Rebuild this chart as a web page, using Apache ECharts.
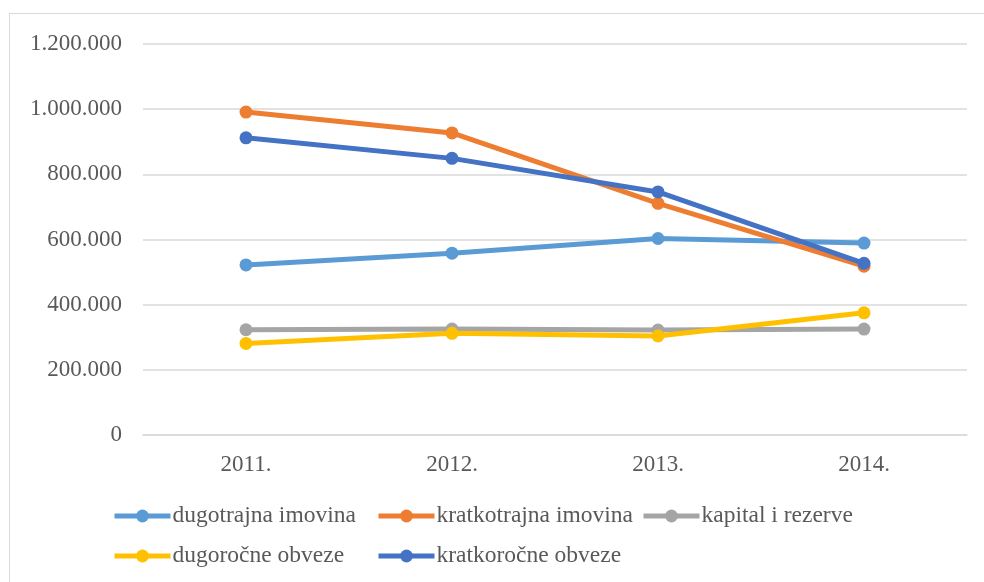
<!DOCTYPE html>
<html>
<head>
<meta charset="utf-8">
<script src="https://cdn.jsdelivr.net/npm/echarts@6/dist/echarts.min.js"></script>
<style>
html,body{margin:0;padding:0;background:#fff;}
#frame{position:absolute;left:9px;top:13px;width:1000px;height:600px;border:1.5px solid #d9d9d9;box-sizing:border-box;}
#chart{position:absolute;left:0;top:0;width:984px;height:582px;}
</style>
</head>
<body>
<div id="frame"></div>
<div id="chart"></div>
<script>
const categories = ['2011.', '2012.', '2013.', '2014.'];
const seriesNames = ['dugotrajna imovina', 'kratkotrajna imovina', 'kapital i rezerve', 'dugoročne obveze', 'kratkoročne obveze'];
const dugotrajnaImovina = [522000, 558000, 603000, 589000];
const kratkotrajnaImovina = [991000, 927000, 711000, 518000];
const kapitalIRezerve = [323000, 325000, 322000, 325000];
const dugorocneObveze = [281000, 312000, 304000, 375000];
const kratkorocneObveze = [912000, 849000, 746000, 527000];
const colors = ['#5B9BD5', '#ED7D31', '#A5A5A5', '#FFC000', '#4472C4'];
const seriesData = [dugotrajnaImovina, kratkotrajnaImovina, kapitalIRezerve, dugorocneObveze, kratkorocneObveze];

const font = '"Liberation Serif", "Times New Roman", serif';
const fmt = v => String(v).replace(/\B(?=(\d{3})+(?!\d))/g, '.');

const legendPos = [[112, 504], [376, 504], [641, 504], [112, 544], [376, 544]];

const chart = echarts.init(document.getElementById('chart'), null, {renderer: 'canvas'});
chart.setOption({
  animation: false,
  color: colors,
  grid: {left: 143, right: 17, top: 44, bottom: 147, containLabel: false},
  legend: seriesNames.map((n, i) => ({
    data: [n],
    left: legendPos[i][0],
    top: legendPos[i][1],
    itemWidth: 56,
    itemHeight: 16,
    itemGap: 0,
    padding: 0,
    lineStyle: {width: 5},
    textStyle: {fontFamily: font, fontSize: 23.5, color: '#595959', padding: [0, 0, 0, -3]}
  })),
  xAxis: {
    type: 'category',
    data: categories,
    boundaryGap: true,
    axisLine: {lineStyle: {color: '#d9d9d9', width: 1.5}},
    axisTick: {show: false},
    axisLabel: {fontFamily: font, fontSize: 23, color: '#595959', margin: 18}
  },
  yAxis: {
    type: 'value',
    min: 0,
    max: 1200000,
    interval: 200000,
    axisLine: {show: false},
    axisTick: {show: false},
    splitLine: {lineStyle: {color: '#d9d9d9', width: 1.5}},
    axisLabel: {fontFamily: font, fontSize: 23, color: '#595959', margin: 21, formatter: fmt}
  },
  series: seriesNames.map((n, i) => ({
    name: n,
    type: 'line',
    data: seriesData[i],
    symbol: 'circle',
    symbolSize: 13,
    lineStyle: {width: 5, color: colors[i]},
    itemStyle: {color: colors[i]},
    z: i === 2 ? 1 : 2 + i
  }))
});
</script>
</body>
</html>
